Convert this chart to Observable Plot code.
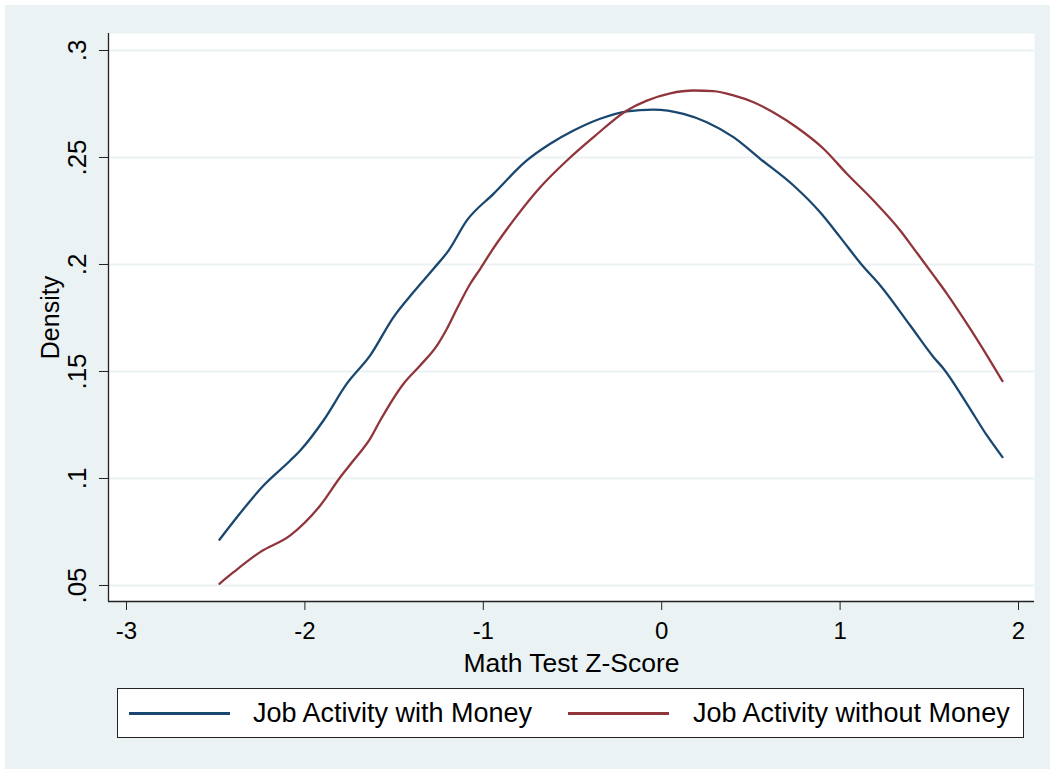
<!DOCTYPE html>
<html>
<head>
<meta charset="utf-8">
<script src="https://cdn.jsdelivr.net/npm/d3@7"></script>
<script src="https://cdn.jsdelivr.net/npm/@observablehq/plot@0.6"></script>
<style>
  html, body { margin: 0; padding: 0; background: #ffffff; width: 1050px; height: 769px; overflow: hidden; }
  #bg { position: absolute; left: 5px; top: 5px; width: 1045px; height: 764px; background: #eaf2f3; }
  #chart { position: absolute; left: 0; top: 0; }
  #legend { position: absolute; left: 117px; top: 688px; width: 905px; height: 48px; background: #fff; border: 1px solid #222;
            font-family: "Liberation Sans", Arial, sans-serif; font-size: 27px; color: #000; }
  .sw { position: absolute; top: 23px; height: 3px; width: 101px; }
  .lb { position: absolute; top: 9px; line-height: 30px; white-space: nowrap; }
</style>
</head>
<body>
<div id="bg"></div>
<div id="chart"></div>
<div id="legend"></div>
<script>
// ---- data ----
const seriesNames = ["Job Activity with Money", "Job Activity without Money"];
const seriesColors = ["#1a476f", "#90353b"];

const xWith = [-2.479, -2.381, -2.232, -2.082, -2.026, -1.896, -1.765, -1.634, -1.503, -1.391, -1.279, -1.195,
  -1.092, -0.943, -0.756, -0.625, -0.494, -0.345, -0.195, -0.046, 0.122, 0.253, 0.402, 0.552, 0.739, 0.888,
  1.000, 1.120, 1.225, 1.393, 1.524, 1.580, 1.711, 1.823, 1.910];
const yWith = [0.0714, 0.0819, 0.0967, 0.1084, 0.1131, 0.1271, 0.1443, 0.1575, 0.1754, 0.1871, 0.1980, 0.2065,
  0.2206, 0.2330, 0.2486, 0.2564, 0.2626, 0.2681, 0.2716, 0.2724, 0.2704, 0.2665, 0.2595, 0.2494, 0.2369, 0.2244,
  0.2128, 0.2000, 0.1902, 0.1715, 0.1567, 0.1513, 0.1349, 0.1201, 0.1100];

const xWithout = [-2.479, -2.400, -2.251, -2.082, -1.914, -1.802, -1.728, -1.634, -1.578, -1.447, -1.354, -1.260,
  -1.204, -1.148, -1.073, -1.017, -0.952, -0.831, -0.681, -0.531, -0.382, -0.195, -0.083, 0.048, 0.178, 0.290,
  0.402, 0.515, 0.627, 0.758, 0.907, 1.038, 1.187, 1.337, 1.421, 1.524, 1.599, 1.729, 1.823, 1.910];
const yWithout = [0.0508, 0.0562, 0.0656, 0.0734, 0.0874, 0.1006, 0.1084, 0.1186, 0.1271, 0.1443, 0.1528, 0.1621,
  0.1700, 0.1793, 0.1910, 0.1980, 0.2065, 0.2206, 0.2361, 0.2486, 0.2595, 0.2720, 0.2766, 0.2800, 0.2813, 0.2810,
  0.2790, 0.2758, 0.2710, 0.2640, 0.2541, 0.2424, 0.2299, 0.2159, 0.2065, 0.1949, 0.1863, 0.1700, 0.1575, 0.1455];

const xTicks = [-3, -2, -1, 0, 1, 2];
const yTicks = [0.05, 0.1, 0.15, 0.2, 0.25, 0.3];
const yTickLabels = [".05", ".1", ".15", ".2", ".25", ".3"];
const xTitle = "Math Test Z-Score";
const yTitle = "Density";

// ---- build tables ----
const rows = [
  ...xWith.map((x, i) => ({x, y: yWith[i], s: seriesNames[0]})),
  ...xWithout.map((x, i) => ({x, y: yWithout[i], s: seriesNames[1]}))
];
const yLabelRows = yTicks.map((v, i) => ({v, t: yTickLabels[i]}));

const xDomain = [-3.1009, 2.0897];
const yDomain = [0.04252, 0.30794];
const font = "'Liberation Sans', Arial, sans-serif";

const chart = Plot.plot({
  width: 1050,
  height: 680,
  marginLeft: 108,
  marginRight: 16,
  marginTop: 33,
  marginBottom: 79,
  style: {background: "transparent", fontFamily: font, color: "#000", overflow: "visible"},
  x: {domain: xDomain},
  y: {domain: yDomain},
  color: {domain: seriesNames, range: seriesColors},
  marks: [
    Plot.frame({fill: "white", stroke: null}),
    Plot.ruleY(yTicks, {stroke: "#eaf2f3", strokeWidth: 2}),
    Plot.axisX({ticks: xTicks, tickSize: 9, tickPadding: 11, fontSize: 24, label: null,
                tickFormat: d => String(d), stroke: "#222"}),
    Plot.axisY({ticks: yTicks, tickSize: 9, tickFormat: () => "", label: null, stroke: "#222"}),
    Plot.text(yLabelRows, {frameAnchor: "left", y: "v", text: "t", rotate: -90, dx: -23,
                           lineAnchor: "bottom", textAnchor: "middle", fontSize: 26, fill: "#000"}),
    Plot.text([yTitle], {frameAnchor: "left", dx: -50, rotate: -90, lineAnchor: "bottom",
                         textAnchor: "middle", fontSize: 25, fill: "#000"}),
    Plot.text([xTitle], {frameAnchor: "bottom", dy: 70, lineAnchor: "bottom", textAnchor: "middle",
                         fontSize: 26.5, fill: "#000"}),
    Plot.ruleX([xDomain[0]], {stroke: "#222", strokeWidth: 1.3}),
    Plot.ruleY([yDomain[0]], {stroke: "#222", strokeWidth: 1.3}),
    Plot.line(rows, {x: "x", y: "y", z: "s", stroke: "s", strokeWidth: 2.3, curve: "monotone-x"})
  ]
});
document.getElementById("chart").appendChild(chart);

// ---- legend ----
const legend = document.getElementById("legend");
const swX = [11, 450];
const lbX = [135, 575];
seriesNames.forEach((name, i) => {
  const sw = document.createElement("div");
  sw.className = "sw";
  sw.style.left = swX[i] + "px";
  sw.style.background = seriesColors[i];
  legend.appendChild(sw);
  const lb = document.createElement("div");
  lb.className = "lb";
  lb.style.left = lbX[i] + "px";
  lb.textContent = name;
  legend.appendChild(lb);
});
</script>
</body>
</html>
